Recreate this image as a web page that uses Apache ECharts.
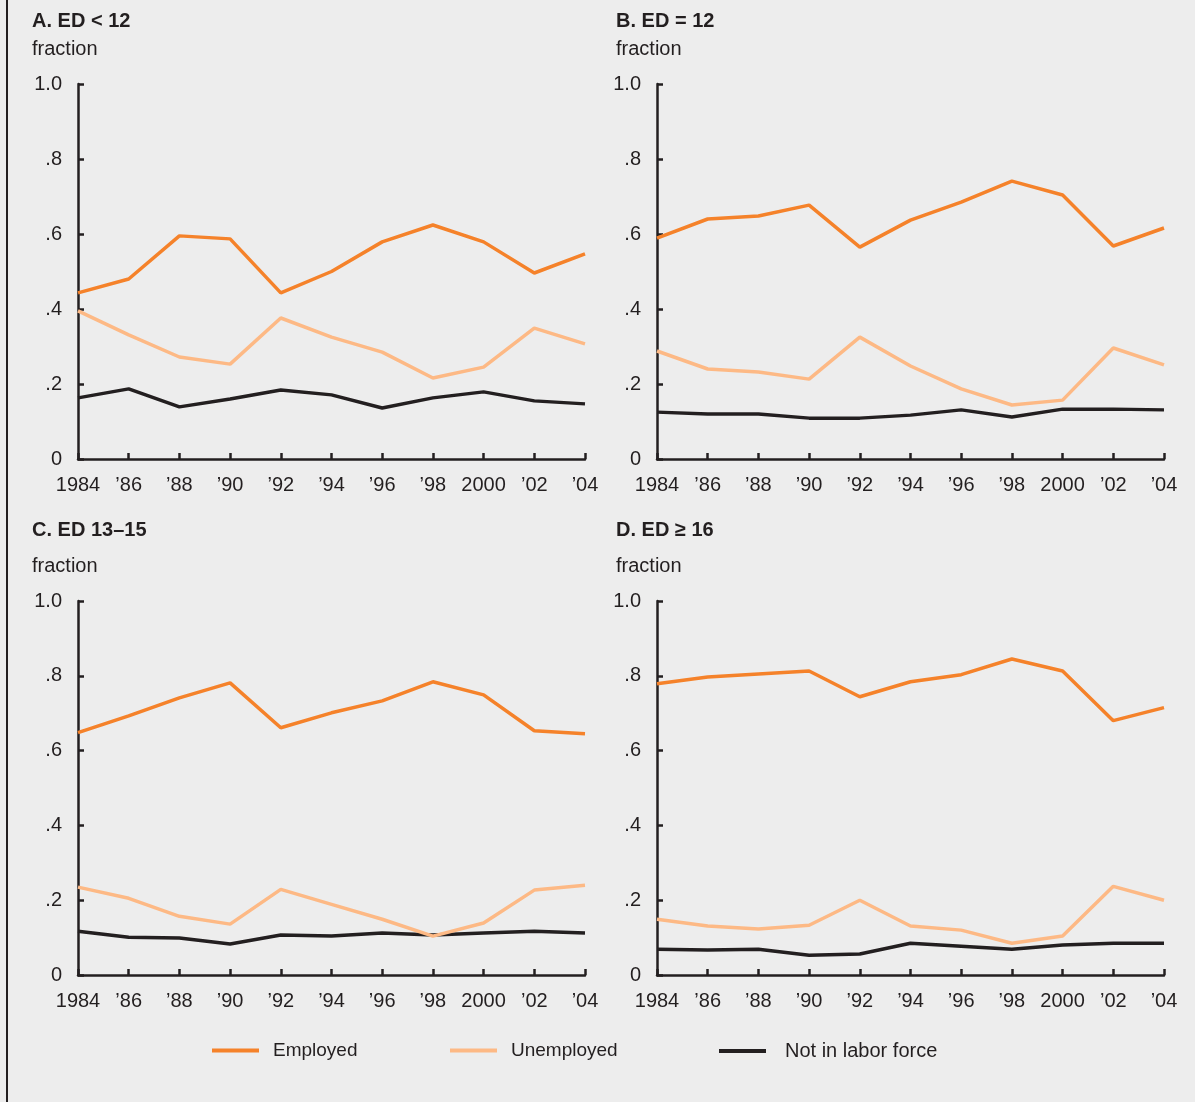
<!DOCTYPE html>
<html>
<head>
<meta charset="utf-8">
<script src="https://cdn.jsdelivr.net/npm/echarts@6/dist/echarts.min.js"></script>
<style>
  html, body { margin: 0; padding: 0; background: #ededed; }
  #chart { width: 1195px; height: 1102px; }
</style>
</head>
<body>
<div id="chart"></div>
<script>
// Survey years and their axis labels
const years = [1984, 1986, 1988, 1990, 1992, 1994, 1996, 1998, 2000, 2002, 2004];
const yearLabels = ['1984', '\u201986', '\u201988', '\u201990', '\u201992', '\u201994', '\u201996', '\u201998', '2000', '\u201902', '\u201904'];
const yTickLabels = ['0', '.2', '.4', '.6', '.8', '1.0'];

const panelTitles = ['A. ED < 12', 'B. ED = 12', 'C. ED 13\u201315', 'D. ED \u2265 16'];
const seriesNames = ['Employed', 'Unemployed', 'Not in labor force'];

// Panel A: less than 12 years of schooling
const edLt12Employed   = [0.443, 0.480, 0.595, 0.587, 0.443, 0.500, 0.579, 0.624, 0.579, 0.496, 0.547];
const edLt12Unemployed = [0.395, 0.331, 0.272, 0.253, 0.376, 0.325, 0.285, 0.216, 0.245, 0.349, 0.307];
const edLt12NotInLF    = [0.163, 0.187, 0.139, 0.160, 0.184, 0.171, 0.136, 0.163, 0.179, 0.155, 0.147];

// Panel B: exactly 12 years
const ed12Employed   = [0.589, 0.640, 0.648, 0.677, 0.565, 0.637, 0.685, 0.741, 0.704, 0.568, 0.616];
const ed12Unemployed = [0.288, 0.240, 0.232, 0.213, 0.325, 0.248, 0.187, 0.144, 0.157, 0.296, 0.251];
const ed12NotInLF    = [0.125, 0.120, 0.120, 0.109, 0.109, 0.117, 0.131, 0.112, 0.133, 0.133, 0.131];

// Panel C: 13 to 15 years
const ed1315Employed   = [0.648, 0.693, 0.741, 0.781, 0.661, 0.701, 0.733, 0.784, 0.749, 0.653, 0.645];
const ed1315Unemployed = [0.235, 0.205, 0.157, 0.136, 0.229, 0.189, 0.149, 0.104, 0.139, 0.227, 0.240];
const ed1315NotInLF    = [0.117, 0.101, 0.099, 0.083, 0.107, 0.104, 0.112, 0.107, 0.112, 0.117, 0.112];

// Panel D: 16 or more years
const ed16Employed   = [0.779, 0.797, 0.805, 0.813, 0.744, 0.784, 0.803, 0.845, 0.813, 0.680, 0.715];
const ed16Unemployed = [0.149, 0.131, 0.123, 0.133, 0.200, 0.131, 0.120, 0.085, 0.104, 0.237, 0.200];
const ed16NotInLF    = [0.069, 0.067, 0.069, 0.053, 0.056, 0.085, 0.077, 0.069, 0.080, 0.085, 0.085];

const panelData = [
  [edLt12Employed, edLt12Unemployed, edLt12NotInLF],
  [ed12Employed, ed12Unemployed, ed12NotInLF],
  [ed1315Employed, ed1315Unemployed, ed1315NotInLF],
  [ed16Employed, ed16Unemployed, ed16NotInLF]
];

const INK = '#231f20';
const FONT = '"Liberation Sans", Arial, sans-serif';
const seriesColors = ['#f5822a', '#fdb985', INK];

// Plot areas, left-to-right then top-to-bottom
const grids = [
  { left: 78,  top: 84,  width: 507, height: 375 },
  { left: 657, top: 84,  width: 507, height: 375 },
  { left: 78,  top: 601, width: 507, height: 374 },
  { left: 657, top: 601, width: 507, height: 374 }
];
// Panel heading (title line and "fraction" line), vertical centres
const headerPos = [
  { x: 32,  y: 20,  y2: 49 },
  { x: 616, y: 20,  y2: 49 },
  { x: 32,  y: 529, y2: 566 },
  { x: 616, y: 529, y2: 566 }
];

// Legend entries: left edge of the swatch and gap before the label
const legendSlots = [
  { x: 207, gap: 9 },
  { x: 445, gap: 9 },
  { x: 714, gap: 14 }
];

const axisLine = { show: true, lineStyle: { color: INK, width: 2.5 } };
const axisTick = { show: true, inside: true, length: 6, lineStyle: { color: INK, width: 2.5 } };

const option = {
  backgroundColor: '#ededed',
  animation: false,
  textStyle: { fontFamily: FONT },
  grid: grids.map(g => Object.assign({ containLabel: false }, g)),
  xAxis: grids.map((g, i) => ({
    type: 'category',
    gridIndex: i,
    data: years.map(String),
    boundaryGap: false,
    axisLine: axisLine,
    axisTick: Object.assign({ alignWithLabel: true, interval: 0 }, axisTick),
    axisLabel: {
      interval: 0, hideOverlap: false,
      color: INK, fontSize: 20, fontFamily: FONT, margin: 16,
      formatter: (v, idx) => yearLabels[idx]
    },
    splitLine: { show: false }
  })),
  yAxis: grids.map((g, i) => ({
    type: 'value',
    gridIndex: i,
    min: 0, max: 1, interval: 0.2,
    axisLine: axisLine,
    axisTick: axisTick,
    axisLabel: {
      color: INK, fontSize: 20, fontFamily: FONT, margin: 16,
      formatter: v => yTickLabels[Math.round(v / 0.2)]
    },
    splitLine: { show: false }
  })),
  legend: legendSlots.map((s, k) => ({
    data: [seriesNames[k]],
    left: s.x,
    top: 1036,
    icon: 'rect',
    itemWidth: 47,
    itemHeight: 4,
    itemGap: 0,
    textStyle: {
      color: INK, fontSize: k === 2 ? 20 : 19, fontFamily: FONT,
      padding: [0, 0, 0, s.gap]
    }
  })),
  series: [],
  graphic: [
    { type: 'line', shape: { x1: 7, y1: 0, x2: 7, y2: 1102 }, style: { stroke: INK, lineWidth: 2 } }
  ]
};

panelData.forEach((panel, i) => {
  panel.forEach((vals, k) => {
    option.series.push({
      name: seriesNames[k],
      type: 'line',
      xAxisIndex: i,
      yAxisIndex: i,
      data: vals,
      showSymbol: false,
      symbol: 'none',
      z: 5 - k,
      lineStyle: { color: seriesColors[k], width: 3.5 },
      itemStyle: { color: seriesColors[k] }
    });
  });
  option.graphic.push({
    type: 'text', left: headerPos[i].x, top: headerPos[i].y - 9,
    style: { text: panelTitles[i], fill: INK, font: 'bold 20px ' + FONT }
  });
  option.graphic.push({
    type: 'text', left: headerPos[i].x, top: headerPos[i].y2 - 10,
    style: { text: 'fraction', fill: INK, font: '20px ' + FONT }
  });
});

const chart = echarts.init(document.getElementById('chart'), null, { renderer: 'canvas' });
chart.setOption(option);
</script>
</body>
</html>
